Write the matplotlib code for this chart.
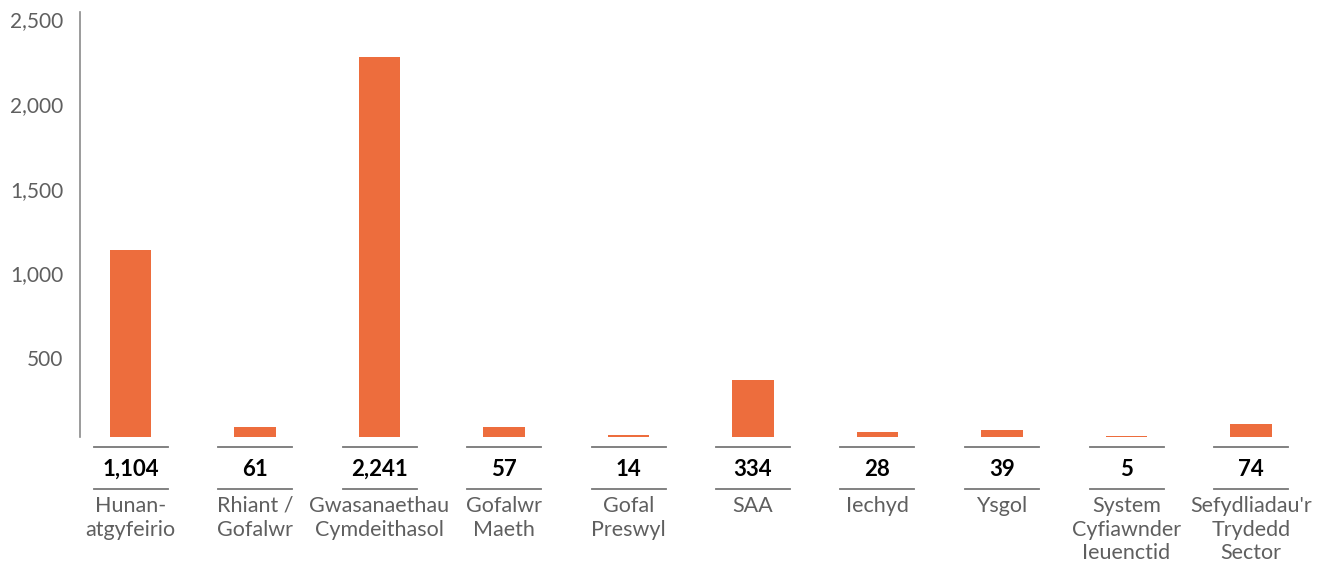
import matplotlib
matplotlib.use("Agg")
import matplotlib.pyplot as plt
import matplotlib.transforms as mtransforms

plt.rcParams['font.family'] = ['Lato', 'DejaVu Sans']

categories = ["Hunan-\natgyfeirio", "Rhiant /\nGofalwr", "Gwasanaethau\nCymdeithasol",
              "Gofalwr\nMaeth", "Gofal\nPreswyl", "SAA", "Iechyd", "Ysgol",
              "System\nCyfiawnder\nIeuenctid", "Sefydliadau'r\nTrydedd\nSector"]
values = [1104, 61, 2241, 57, 14, 334, 28, 39, 5, 74]
yticks = [500, 1000, 1500, 2000, 2500]

W, H = 1328, 564
fig = plt.figure(figsize=(W / 100, H / 100), dpi=100)

# axes placed in pixel terms
ax_left, ax_top, ax_bottom = 80, 11.5, 437
ax = fig.add_axes([ax_left / W, 1 - ax_bottom / H, 1 - ax_left / W, (ax_bottom - ax_top) / H])

orange = "#ED6D3D"
grey = "#5f5f5f"

x = list(range(len(values)))
ax.bar(x, values, width=0.33, color=orange)

step = 124.5
first = 130.5
ax.set_xlim(-(first - ax_left) / step, (W - first) / step)
ax.set_ylim(0, 2510)

ax.set_yticks(yticks)
ax.set_yticklabels([f"{v:,}" for v in yticks])
ax.tick_params(axis='y', length=0, pad=12, labelsize=15, labelcolor=grey)
ax.set_xticks([])
# shift tick labels down a touch, as in the original
off = mtransforms.ScaledTranslation(0, -6 / 100, fig.dpi_scale_trans)
for lbl in ax.get_yticklabels():
    lbl.set_transform(lbl.get_transform() + off)

for s in ['top', 'right', 'bottom']:
    ax.spines[s].set_visible(False)
ax.spines['left'].set_color("#8a8a8a")
ax.spines['left'].set_linewidth(1.2)

trans = mtransforms.blended_transform_factory(ax.transData, fig.transFigure)
half = 37 / step
for i, (v, c) in enumerate(zip(values, categories)):
    for yp in (447, 488.5):
        ax.plot([i - half, i + half], [1 - yp / H, 1 - yp / H], color="#777777",
                lw=1.3, transform=trans, clip_on=False)
    ax.text(i, 1 - 469 / H, f"{v:,}", transform=trans, ha='center', va='center',
            fontsize=16, fontweight='bold', color="black")
    ax.text(i, 1 - 496 / H, c, transform=trans, ha='center', va='top',
            fontsize=15.5, color=grey, linespacing=1.22)

fig.savefig("out.png", dpi=100)
